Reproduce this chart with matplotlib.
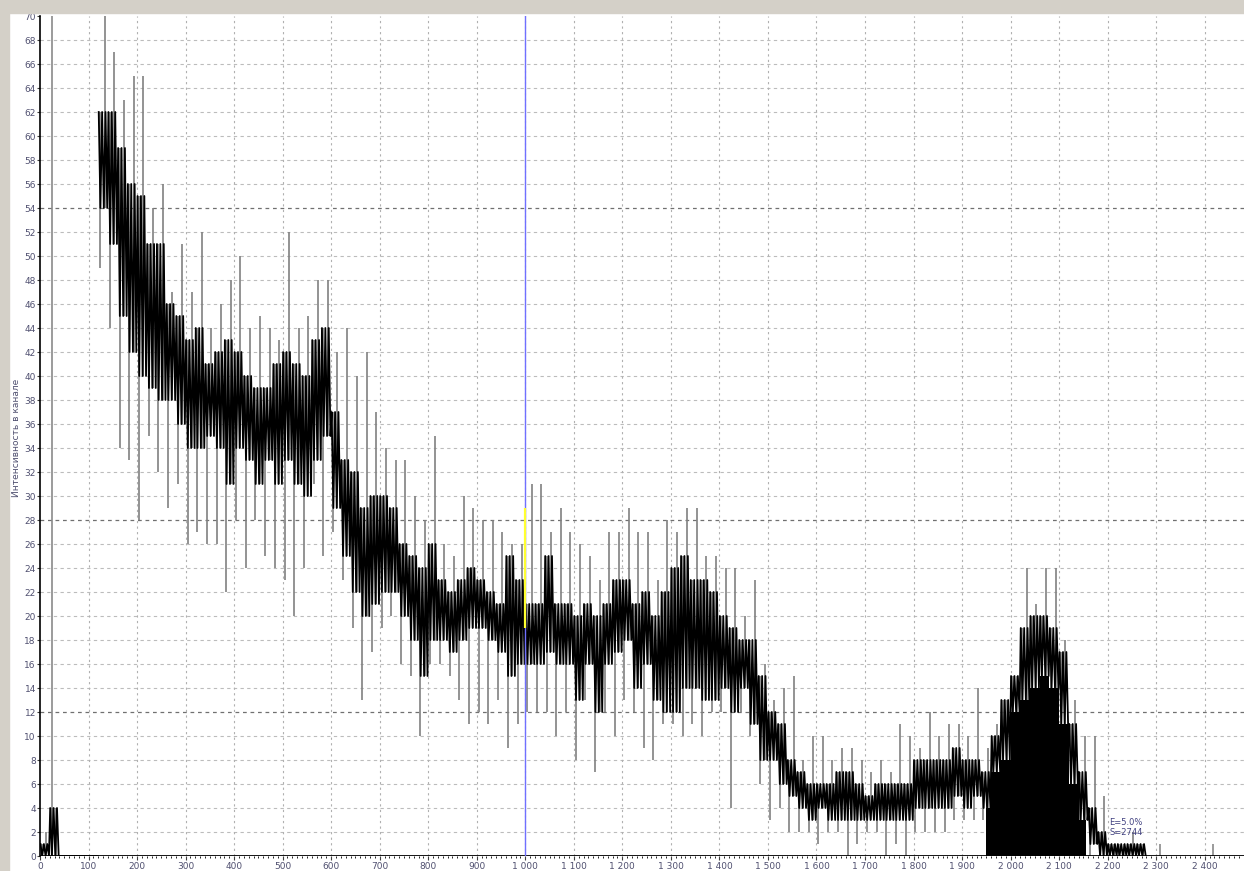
import numpy as np
import matplotlib.pyplot as plt
from matplotlib.patches import Rectangle
from matplotlib.ticker import MultipleLocator, FuncFormatter

# spectrum, 20-channel bins
# hi / lo = tips of the thin grey spikes, core_hi / core_lo = dense black band
bin_start = np.arange(0, 2280, 20)
hi = [2, 4, 0, 0, 0, 0,
      70, 67, 63, 65, 65, 54, 56, 47, 51, 47, 52, 44, 46, 48, 50, 44, 45, 44, 43, 52,
      44, 45, 48, 48, 42, 44, 40, 42, 37, 34, 33, 33, 30, 28, 35, 26, 25, 30, 29, 28,
      28, 27, 26, 26, 31, 31, 27, 29, 27, 26, 25, 23, 27, 27, 29, 27, 27, 23, 28, 27,
      29, 29, 25, 25, 24, 24, 20, 23, 16, 13, 14, 15, 8, 10, 10, 8, 9, 9, 8, 7,
      8, 7, 11, 10, 9, 12, 10, 11, 11, 10, 14, 9, 11, 13, 15, 24, 21, 24, 24, 18,
      13, 10, 10, 5, 1, 1, 2, 1]
core_hi = [1, 4, 0, 0, 0, 0,
           62, 62, 59, 56, 55, 51, 51, 46, 45, 43, 44, 41, 42, 43, 42, 40, 39, 39, 41, 42,
           41, 40, 43, 44, 37, 33, 32, 29, 30, 30, 29, 26, 25, 24, 26, 23, 22, 23, 24, 23,
           22, 21, 25, 23, 21, 21, 25, 21, 21, 20, 21, 20, 21, 23, 23, 21, 22, 20, 22, 24,
           25, 23, 23, 22, 20, 19, 18, 18, 15, 12, 11, 8, 7, 6, 6, 6, 7, 7, 6, 5,
           6, 6, 6, 6, 8, 8, 8, 8, 9, 8, 8, 7, 10, 13, 15, 19, 20, 20, 19, 17,
           11, 7, 4, 2, 1, 1, 1, 1]
core_lo = [0, 0, 0, 0, 0, 0,
           54, 51, 45, 42, 40, 39, 38, 38, 36, 34, 34, 35, 34, 31, 34, 33, 31, 33, 31, 33,
           31, 30, 33, 35, 29, 25, 22, 20, 21, 22, 22, 20, 18, 15, 18, 18, 17, 18, 19, 19,
           18, 17, 15, 16, 16, 16, 17, 16, 16, 13, 16, 12, 16, 17, 18, 14, 16, 13, 12, 12,
           14, 14, 13, 13, 14, 12, 14, 11, 8, 8, 6, 5, 4, 3, 4, 3, 3, 3, 3, 3,
           3, 3, 3, 3, 4, 4, 4, 4, 5, 4, 5, 4, 7, 8, 12, 13, 14, 15, 14, 11,
           6, 3, 1, 0, 0, 0, 0, 0]
lo = [0, 0, 0, 0, 0, 0,
      49, 44, 34, 33, 28, 35, 32, 29, 31, 26, 27, 26, 26, 22, 28, 24, 28, 25, 24, 23,
      20, 24, 31, 25, 27, 23, 19, 13, 17, 19, 20, 16, 15, 10, 16, 16, 15, 13, 11, 12,
      11, 13, 9, 11, 12, 12, 12, 10, 12, 8, 13, 7, 12, 10, 13, 12, 9, 8, 11, 11,
      10, 11, 10, 12, 12, 4, 12, 10, 6, 3, 4, 2, 2, 2, 1, 2, 2, 0, 1, 2,
      2, 0, 1, 0, 2, 2, 2, 2, 3, 3, 3, 3, 5, 6, 9, 10, 11, 12, 12, 7,
      4, 0, 0, 0, 0, 0, 0, 0]

# single isolated channels
spike_ch = [25, 2307, 2417]
spike_val = [75, 1, 1]

threshold_ch = 120                   # spectrum body starts here
roi_from, roi_to = 1950, 2155        # marked peak region, drawn filled
cursor_ch = 1000
cursor_lo, cursor_hi = 19, 29

hi = np.array(hi); core_hi = np.array(core_hi)
core_lo = np.array(core_lo); lo = np.array(lo)

fig = plt.figure(figsize=(12.44, 8.71), dpi=100)
ax = fig.add_axes([40 / 1244, 15 / 871, 1 - 40 / 1244, 840 / 871])
ax.set_xlim(0, 2481)
ax.set_ylim(0, 70)

# grid
light = dict(color='#bcbcbc', lw=0.8, ls=(0, (3, 3)), zorder=0)
dark = dict(color='#707070', lw=0.9, ls=(0, (3, 3)), zorder=0)
for y in range(2, 70, 2):
    ax.axhline(y, **(dark if y in (12, 28, 54) else light))
for x in range(100, 2500, 100):
    ax.axvline(x, color='#b0b0b0', lw=0.8, ls=(0, (2, 3)), zorder=0)

# grey spikes, one going down and one going up in each bin
ax.vlines(bin_start + 4, lo, core_hi, color='#808080', lw=1.2, zorder=2)
ax.vlines(bin_start + 13, core_lo, hi, color='#808080', lw=1.2, zorder=2)
ax.vlines(spike_ch, 0, spike_val, color='#808080', lw=1.1, zorder=2)

# dense black core: zigzag between core_hi and core_lo
offs = [1, 4.5, 8, 11.5, 15, 18.5]
for part in (bin_start < threshold_ch, bin_start >= threshold_ch):
    b = bin_start[part]
    zx = np.ravel(np.column_stack([b + o for o in offs]))
    zy = np.ravel(np.column_stack([core_hi[part], core_lo[part]] * 3))
    ax.plot(zx, zy, color='black', lw=1.3, zorder=3)

# filled region of interest
in_roi = (bin_start + 20 > roi_from) & (bin_start < roi_to)
left = np.maximum(bin_start[in_roi], roi_from)
right = np.minimum(bin_start[in_roi] + 20, roi_to)
ax.bar(left, core_lo[in_roi], width=right - left, align='edge', color='black', zorder=3)

ax.axhline(0, color='black', lw=2, zorder=4)

# cursor
ax.axvline(cursor_ch, color='#7070ff', lw=1, zorder=5)
ax.vlines(cursor_ch, cursor_lo, cursor_hi, color='#ffff30', lw=1.6, zorder=6)

ax.text(2203, 2.55, 'E=5.0%', fontsize=6, color='#404080', zorder=7)
ax.text(2203, 1.75, 'S=2744', fontsize=6, color='#404080', zorder=7)

# axes look
for s in ('top', 'right'):
    ax.spines[s].set_visible(False)
ax.spines['left'].set_color('black')
ax.spines['left'].set_linewidth(1.2)
ax.spines['bottom'].set_visible(False)
ax.xaxis.set_major_locator(MultipleLocator(100))
ax.xaxis.set_minor_locator(MultipleLocator(10))
ax.yaxis.set_major_locator(MultipleLocator(2))
ax.xaxis.set_major_formatter(FuncFormatter(lambda v, p: f"{int(v):,}".replace(",", " ")))
ax.tick_params(axis='both', labelsize=6.5, labelcolor='#505070', color='#404040')
ax.tick_params(axis='x', which='major', length=3, pad=1)
ax.tick_params(axis='x', which='minor', length=1.5)
ax.tick_params(axis='y', length=2, pad=1)

fig.text(17 / 1244, 1 - 438 / 871, 'Интенсивность в канале', rotation=90,
         fontsize=6.5, color='#505070', ha='center', va='center')

# window frame bits
fig.add_artist(Rectangle((0, 0), 9 / 1244, 1, transform=fig.transFigure,
                         color='#d4d0c8', zorder=10))
fig.add_artist(Rectangle((0, 1 - 13 / 871), 1, 13 / 871, transform=fig.transFigure,
                         color='#d4d0c8', zorder=10))

fig.savefig('out.png', dpi=100)
